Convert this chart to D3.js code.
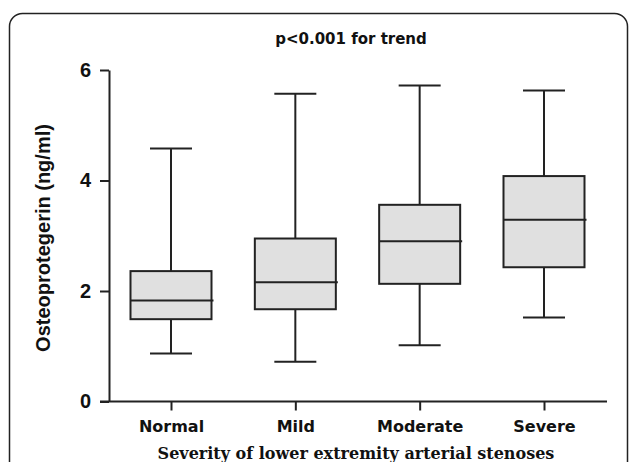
<!DOCTYPE html>
<html lang="en">
<head>
<meta charset="utf-8">
<title>OPG box plot</title>
<script src="https://d3js.org/d3.v7.min.js"></script>
<style>
  body{margin:0;background:#fff;}
</style>
</head>
<body>
<div id="chart"></div>
<script>
// box plot values
var groups = ["Normal","Mild","Moderate","Severe"]
var whiskerLow = [0.87,0.72,1.02,1.52]
var q1 = [1.49,1.67,2.13,2.43]
var median = [1.83,2.16,2.90,3.29]
var q3 = [2.36,2.95,3.56,4.08]
var whiskerHigh = [4.58,5.57,5.72,5.63]
var yTicks = [0,2,4,6]

var w = 629, h = 462

var svg = d3.select("#chart").append("svg")
    .attr("width",w).attr("height",h)

// outer frame with rounded corners (runs off the bottom)
svg.append("rect")
    .attr("x",9.5).attr("y",13.5)
    .attr("width",618).attr("height",480)
    .attr("rx",13)
    .attr("fill","none").attr("stroke","#222").attr("stroke-width",1.5)

var xScale = d3.scalePoint().domain(groups).range([171,544])
var yScale = d3.scaleLinear().domain([0,6]).range([401.5,70])

var stroke = "#222"

// y axis
var yAxis = d3.axisLeft(yScale).tickValues(yTicks).tickFormat(d3.format("d")).tickSize(9).tickSizeOuter(0)
var gy = svg.append("g")
    .attr("transform","translate(109,0)")
    .call(yAxis)
gy.select(".domain").attr("stroke",stroke).attr("stroke-width",2)
gy.selectAll(".tick line").attr("stroke",stroke).attr("stroke-width",2)
gy.selectAll(".tick text")
    .attr("x",-18)
    .attr("fill","#111")
    .style("font-family","'Liberation Sans Narrow','Liberation Sans',Arial,sans-serif")
    .style("font-weight","bold")
    .style("font-size","20px")

// x axis
var xAxis = d3.axisBottom(xScale).tickSize(9).tickSizeOuter(0)
var gx = svg.append("g")
    .attr("transform","translate(0,401.5)")
    .call(xAxis)
gx.select(".domain").remove()
gx.append("line")
    .attr("x1",100).attr("x2",607)
    .attr("stroke",stroke).attr("stroke-width",2)
gx.selectAll(".tick line").attr("stroke",stroke).attr("stroke-width",2)
gx.selectAll(".tick text")
    .attr("y",30.5).attr("dy",0)
    .attr("fill","#111")
    .style("font-family","'DejaVu Sans',Verdana,sans-serif")
    .style("font-weight","bold")
    .style("font-size","16px")

// boxes
var boxW = 81, capW = 42
var data = groups.map(function(g,i){
    return {g:g, lo:whiskerLow[i], q1:q1[i], med:median[i], q3:q3[i], hi:whiskerHigh[i]}
})

var box = svg.selectAll(".box").data(data).enter().append("g").attr("class","box")

box.append("line")
    .attr("x1",function(d){return xScale(d.g)}).attr("x2",function(d){return xScale(d.g)})
    .attr("y1",function(d){return yScale(d.hi)}).attr("y2",function(d){return yScale(d.lo)})
    .attr("stroke",stroke).attr("stroke-width",2)

box.selectAll(".cap").data(function(d){return [d,d]}).enter().append("line")
    .attr("class","cap")
    .attr("x1",function(d){return xScale(d.g)-capW/2}).attr("x2",function(d){return xScale(d.g)+capW/2})
    .attr("y1",function(d,i){return yScale(i?d.lo:d.hi)}).attr("y2",function(d,i){return yScale(i?d.lo:d.hi)})
    .attr("stroke",stroke).attr("stroke-width",2)

box.append("rect")
    .attr("x",function(d){return xScale(d.g)-boxW/2})
    .attr("y",function(d){return yScale(d.q3)})
    .attr("width",boxW)
    .attr("height",function(d){return yScale(d.q1)-yScale(d.q3)})
    .attr("fill","#e0e0e0").attr("stroke",stroke).attr("stroke-width",2)

box.append("line")
    .attr("x1",function(d){return xScale(d.g)-boxW/2}).attr("x2",function(d){return xScale(d.g)+boxW/2+2})
    .attr("y1",function(d){return yScale(d.med)}).attr("y2",function(d){return yScale(d.med)})
    .attr("stroke",stroke).attr("stroke-width",2)

// title
svg.append("text")
    .attr("x",351).attr("y",44)
    .attr("text-anchor","middle")
    .style("font-family","'DejaVu Sans',Arial,sans-serif")
    .style("font-weight","bold")
    .style("font-size","15px")
    .attr("fill","#111")
    .text("p<0.001 for trend")

// y label
svg.append("text")
    .attr("transform","translate(50,238) rotate(-90)")
    .attr("text-anchor","middle")
    .style("font-family","'Liberation Sans Narrow','Liberation Sans',Arial,sans-serif")
    .style("font-weight","bold")
    .style("font-size","20px")
    .attr("fill","#111")
    .text("Osteoprotegerin (ng/ml)")

// x label
svg.append("text")
    .attr("x",356).attr("y",459)
    .attr("text-anchor","middle")
    .style("font-family","'DejaVu Serif','Liberation Serif',serif")
    .style("font-weight","bold")
    .style("font-size","16px")
    .attr("fill","#111")
    .text("Severity of lower extremity arterial stenoses")
</script>
</body>
</html>
